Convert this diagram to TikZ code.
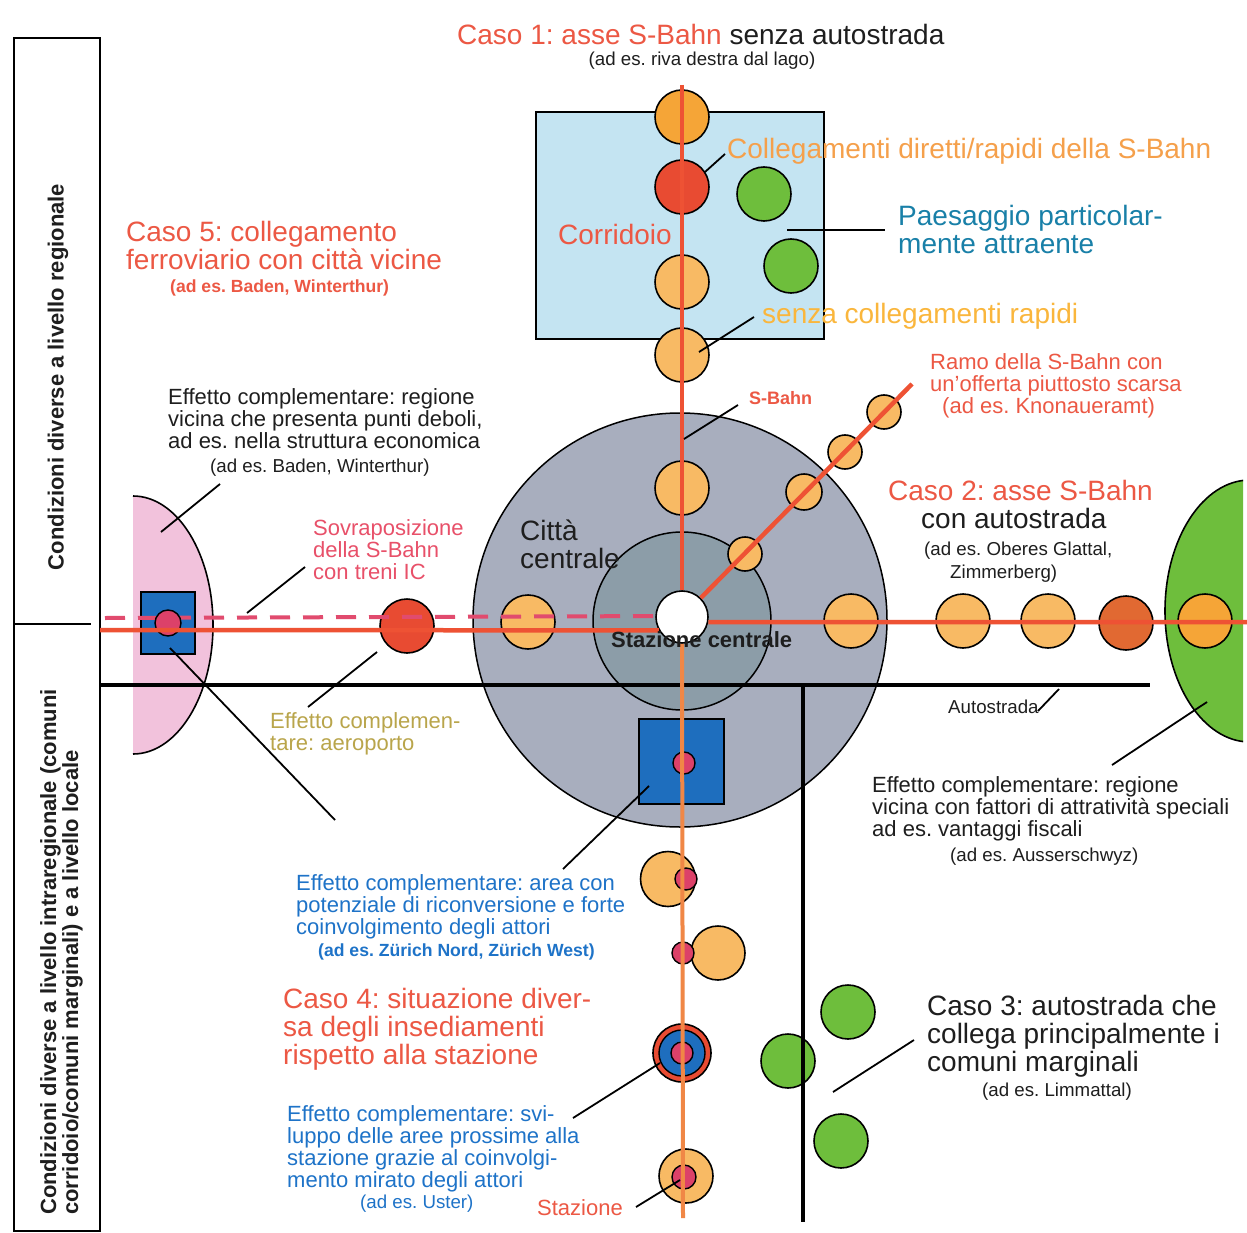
\documentclass[tikz,border=0pt]{standalone}
\usepackage{fontspec}
\setmainfont{Liberation Sans}
\frenchspacing
\newcommand\mlines[1]{\vtop{\lineskiplimit=-50pt\relax\halign{##\hfil\cr#1\crcr}}}
\newcommand\SzBig{\fontsize{28}{28}\selectfont}
\newcommand\SzMid{\fontsize{22}{22}\selectfont}
\newcommand\SzSm{\fontsize{18.7}{19}\selectfont}
\newcommand\SzSmB{\fontsize{17.6}{19}\selectfont\bfseries}
\definecolor{tblack}{RGB}{30,30,30}
\definecolor{cRed}{RGB}{236,88,68}
\definecolor{cOrangeT}{RGB}{245,160,75}
\definecolor{cYellowT}{RGB}{250,182,60}
\definecolor{cTeal}{RGB}{25,128,168}
\definecolor{cPinkT}{RGB}{232,80,105}
\definecolor{cOlive}{RGB}{185,165,75}
\definecolor{cBlueT}{RGB}{30,115,200}
\definecolor{fOrD}{RGB}{245,165,55}
\definecolor{fOrL}{RGB}{248,186,100}
\definecolor{fRed}{RGB}{232,75,50}
\definecolor{fOrR}{RGB}{225,105,50}
\definecolor{fGreen}{RGB}{110,190,60}
\definecolor{fLBlue}{RGB}{196,228,242}
\definecolor{fCity}{RGB}{168,174,190}
\definecolor{fCore}{RGB}{140,157,168}
\definecolor{fPink}{RGB}{242,194,220}
\definecolor{fBlue}{RGB}{30,110,190}
\definecolor{fMag}{RGB}{220,65,105}
\definecolor{lRed}{RGB}{238,82,52}
\definecolor{lOrange}{RGB}{240,135,70}
\definecolor{lDash}{RGB}{225,75,110}
\tikzset{
  stn/.style={circle, draw=black, line width=1.6, inner sep=0, minimum size=54},
  dot/.style={circle, draw=black, line width=1.4, inner sep=0, minimum size=22, fill=fMag},
  lead/.style={draw=black, line width=1.8},
  rail/.style={draw=lRed, line width=4.5},
  road/.style={draw=black, line width=4},
  frame/.style={draw=black, line width=2.4},
  txt/.style={anchor=base west, inner sep=0, text=tblack},
}
\begin{document}
\begin{tikzpicture}[x=1pt,y=-1pt]
\useasboundingbox (0,0) rectangle (1247,1233);
\fill[white] (0,0) rectangle (1247,1233);

% left frame
\draw[frame] (14,38) rectangle (100,1231);
\draw[frame] (14,624) -- (91,624);

% regions
\node[rectangle, draw=black, line width=1.8, fill=fLBlue, inner sep=0, minimum width=288, minimum height=227] (corr) at (680,225.5) {};
\node[circle, draw=black, line width=1.5, fill=fCity, inner sep=0, minimum size=414] (city) at (680,620) {};
\node[circle, draw=black, line width=1.5, fill=fCore, inner sep=0, minimum size=178] (core) at (682,621) {};
\fill[fPink] (133,496) arc[start angle=-90, end angle=90, x radius=80, y radius=129] -- cycle;
\draw[line width=1.6] (133,496) arc[start angle=-90, end angle=90, x radius=80, y radius=129];
\begin{scope}
  \clip (0,0) rectangle (1243,1233);
  \draw[line width=1.6, fill=fGreen] (1250,611) ellipse [x radius=85, y radius=131];
\end{scope}

% green circles
\node[stn, fill=fGreen] (g1) at (764,194) {};
\node[stn, fill=fGreen] (g2) at (791,266) {};
\node[stn, fill=fGreen] (g3) at (848,1012) {};
\node[stn, fill=fGreen] (g4) at (788,1061) {};
\node[stn, fill=fGreen] (g5) at (841,1141) {};

% roads
\coordinate (aL) at (100,685);
\coordinate (aR) at (1150,685);
\coordinate (vT) at (803,685);
\coordinate (vB) at (803,1222);
\draw[road] (aL) -- (aR);
\draw[road, line width=3.5] (vT) -- (vB);

% stations on vertical
\node[stn, fill=fOrD] (v1) at (682,117) {};
\node[stn, fill=fRed] (v2) at (682,187) {};
\node[stn, fill=fOrL] (v3) at (682,282) {};
\node[stn, fill=fOrL] (v4) at (682,355) {};
\node[stn, fill=fOrL] (v5) at (682,488) {};
% diagonal
\node[stn, fill=fOrL, minimum size=34] (d1) at (745,554) {};
\node[stn, fill=fOrL, minimum size=36] (d2) at (804,492) {};
\node[stn, fill=fOrL, minimum size=34] (d3) at (845,452) {};
\node[stn, fill=fOrL, minimum size=34] (d4) at (884,412) {};
% horizontal
\node[stn, fill=fRed] (h1) at (407,626) {};
\node[stn, fill=fOrL] (h2) at (528,622) {};
\node[stn, fill=fOrL] (h3) at (851,621) {};
\node[stn, fill=fOrL] (h4) at (963,621) {};
\node[stn, fill=fOrL] (h5) at (1048,621) {};
\node[stn, fill=fOrR] (h6) at (1126,623) {};
\node[stn, fill=fOrD] (h7) at (1205,621) {};
% lower
\node[rectangle, draw=black, line width=1.6, fill=fBlue, inner sep=0, minimum size=85] (sq1) at (681.5,761.5) {};
\node[dot] (m1) at (684,763) {};
\node[stn, fill=fOrL, minimum size=55] (c8) at (668,879) {};
\node[dot] (m2) at (686,879) {};
\node[stn, fill=fOrL] (c9) at (718,953) {};
\node[dot] (m3) at (683,953) {};
\node[stn, fill=fRed, minimum size=58] (k1) at (682,1053) {};
\node[circle, draw=black, line width=1.4, fill=fBlue, inner sep=0, minimum size=46] (k2) at (682,1053) {};
\node[dot] (k3) at (682,1053) {};
\node[stn, fill=fOrL] (c10) at (686,1176) {};
\node[dot, minimum size=24] (m4) at (684,1177) {};
% left square
\node[rectangle, draw=black, line width=1.6, fill=fBlue, inner sep=0, minimum width=54, minimum height=62] (sq2) at (168,623) {};

% central station
\node[circle, draw=black, line width=1.6, fill=white, inner sep=0, minimum size=52] (hb) at (682,617) {};

% rails
\coordinate (railTop) at (682,85);
\coordinate (railBot) at (683,1218);
\coordinate (railL) at (100,630);
\coordinate (railR) at (1247,622);
\coordinate (dashL) at (105,618);
\coordinate (diagEnd) at (912,384);
\draw[draw=lDash, line width=4, dash pattern=on 20pt off 13pt] (dashL) -- (hb.178);
\node[dot, minimum size=26] (m5) at (168,623) {};
\draw[rail] (railTop) -- (hb.north);
\draw[rail] (hb) -- (diagEnd);
\draw[rail] (railL) -- (hb.210);
\draw[rail] (hb.-11) -- (railR);
\draw[rail, draw=lOrange, line width=4] (hb.south) -- (railBot);

% leaders
\coordinate (l1a) at (161,532); \coordinate (l1b) at (220,484);
\coordinate (l2a) at (247,613); \coordinate (l2b) at (305,567);
\coordinate (l3a) at (308,707); \coordinate (l3b) at (377,652);
\coordinate (l4a) at (170,648); \coordinate (l4b) at (335,820);
\coordinate (l5a) at (649,786); \coordinate (l5b) at (563,869);
\coordinate (l6a) at (660,1063); \coordinate (l6b) at (573,1118);
\coordinate (l7a) at (680,1180); \coordinate (l7b) at (636,1207);
\coordinate (l8a) at (833,1092); \coordinate (l8b) at (914,1040);
\coordinate (l9a) at (1038,711); \coordinate (l9b) at (1059,689);
\coordinate (l10a) at (1112,765); \coordinate (l10b) at (1207,702);
\coordinate (l11a) at (705,172); \coordinate (l11b) at (725,154);
\coordinate (l12a) at (787,230); \coordinate (l12b) at (885,230);
\coordinate (l13a) at (699,352); \coordinate (l13b) at (754,317);
\coordinate (l14a) at (684,439); \coordinate (l14b) at (738,405);
\foreach \i in {1,...,14} {\draw[lead] (l\i a) -- (l\i b);}

% texts
\node[txt] (t1) at (457,45) {\SzBig\textcolor{cRed}{Caso 1: asse S-Bahn} senza autostrada};
\node[txt, anchor=base] (t1b) at (702,66) {\SzSm(ad es. riva destra dal lago)};
\node[txt, text=cOrangeT] (t2) at (727,159) {\SzBig Collegamenti diretti/rapidi della S-Bahn};
\node[txt, text=cTeal] (t3) at (898,226) {\SzBig\mlines{Paesaggio particolar-\cr mente attraente}};
\node[txt, text=cRed] (t4) at (558,245) {\SzBig Corridoio};
\node[txt, text=cYellowT] (t5) at (762,323) {\SzBig senza collegamenti rapidi};
\node[txt, text=cRed] (t6) at (126,242) {\SzBig\mlines{Caso 5: collegamento\cr ferroviario con città vicine}};
\node[txt, text=cRed] (t6b) at (170,293) {\SzSmB(ad es. Baden, Winterthur)};
\node[txt, text=cRed] (t7) at (930,369) {\SzMid\mlines{Ramo della S-Bahn con\cr un'offerta piuttosto scarsa\cr\hskip12pt(ad es. Knonaueramt)}};
\node[txt, text=cRed] (t8) at (749,404) {\fontsize{18}{19}\selectfont\bfseries S-Bahn};
\node[txt] (t9) at (168,404) {\SzMid\mlines{Effetto complementare: regione\cr vicina che presenta punti deboli,\cr ad es. nella struttura economica}};
\node[txt] (t9b) at (210,472) {\SzSm(ad es. Baden, Winterthur)};
\node[txt, text=cRed] (t10) at (888,500) {\SzBig Caso 2: asse S-Bahn};
\node[txt] (t10b) at (921,528) {\SzBig con autostrada};
\node[txt] (t10c) at (924,555) {\SzSm(ad es. Oberes Glattal,};
\node[txt] (t10d) at (950,578) {\SzSm Zimmerberg)};
\node[txt] (t11) at (520,540) {\SzBig\mlines{Città\cr centrale}};
\node[txt, text=cPinkT] (t12) at (313,535) {\SzMid\mlines{Sovraposizione\cr della S-Bahn\cr con treni IC}};
\node[txt] (t13) at (611,647) {\SzMid\bfseries Stazione centrale};
\node[txt] (t14) at (948,713) {\SzSm Autostrada};
\node[txt, text=cOlive] (t15) at (270,728) {\SzMid\mlines{Effetto complemen-\cr tare: aeroporto}};
\node[txt] (t16) at (872,792) {\SzMid\mlines{Effetto complementare: regione\cr vicina con fattori di attratività speciali\cr ad es. vantaggi fiscali}};
\node[txt] (t16b) at (950,861) {\SzSm(ad es. Ausserschwyz)};
\node[txt, text=cBlueT] (t17) at (296,890) {\SzMid\mlines{Effetto complementare: area con\cr potenziale di riconversione e forte\cr coinvolgimento degli attori}};
\node[txt, text=cBlueT] (t17b) at (318,956) {\SzSmB(ad es. Zürich Nord, Zürich West)};
\node[txt, text=cRed] (t18) at (283,1008) {\SzBig\mlines{Caso 4: situazione diver-\cr sa degli insediamenti\cr rispetto alla stazione}};
\node[txt] (t19) at (927,1015) {\SzBig\mlines{Caso 3: autostrada che\cr collega principalmente i\cr comuni marginali}};
\node[txt] (t19b) at (982,1096) {\SzSm(ad es. Limmattal)};
\node[txt, text=cBlueT] (t20) at (287,1121) {\SzMid\mlines{Effetto complementare: svi-\cr luppo delle aree prossime alla\cr stazione grazie al coinvolgi-\cr mento mirato degli attori}};
\node[txt, text=cBlueT] (t20b) at (360,1208) {\SzSm(ad es. Uster)};
\node[txt, text=cRed] (t21) at (537,1215) {\SzMid Stazione};

% vertical labels
\node[inner sep=0, rotate=90, text=tblack] (r1) at (58,377) {\fontsize{22}{22}\selectfont\bfseries Condizioni diverse a livello regionale};
\node[inner sep=0, rotate=90, anchor=base west, text=tblack] (r2) at (56,1215) {\fontsize{22}{22}\selectfont\bfseries\mlines{Condizioni diverse a livello intraregionale (comuni\cr corridoio/comuni marginali) e a livello locale}};
\end{tikzpicture}
\end{document}
